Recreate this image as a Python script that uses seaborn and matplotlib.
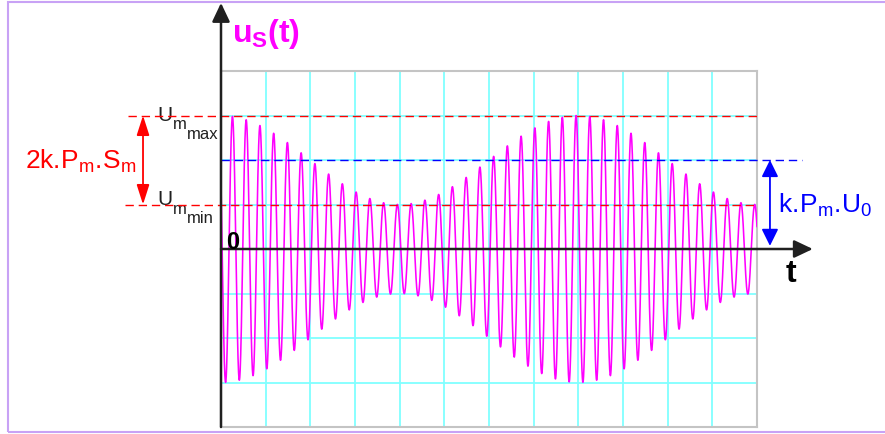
import numpy as np
import pandas as pd
import matplotlib
matplotlib.use("Agg")
import matplotlib.pyplot as plt
from matplotlib.patches import Rectangle
import seaborn as sns

# values, in grid units
u_max = 3.0            # U_m max
u_min = 1.0            # U_m min
u_mid = 2.0            # k.Pm.U0
env_period = 8.0       # envelope period (grid squares)
carrier_cycles = 26    # carrier periods in one envelope period
carrier_phase = np.pi / 3
t_end = 12.0

x_grid = list(range(0, 13))
y_grid = list(range(-4, 5))

t = np.linspace(0, t_end, 4000)
env = u_mid + (u_max - u_mid) * np.cos(2 * np.pi * t / env_period)
u = env * np.cos(2 * np.pi * carrier_cycles * t / env_period + carrier_phase)
signal = pd.DataFrame({"t": t, "u": u})

sns.set_theme(style="white")
plt.rcParams["font.family"] = ["Liberation Sans", "DejaVu Sans"]
plt.rcParams["mathtext.fontset"] = "custom"
plt.rcParams["mathtext.rm"] = "Liberation Sans"
plt.rcParams["mathtext.it"] = "Liberation Sans"
plt.rcParams["mathtext.bf"] = "Liberation Sans:bold"

fig = plt.figure(figsize=(8.85, 4.35), dpi=100)
fig.patches.append(Rectangle((7.5 / 885, 2.5 / 435), 900 / 885, 430 / 435,
                             transform=fig.transFigure, fill=False,
                             edgecolor="#c8a2f5", lw=1.5))

ax = fig.add_axes([221 / 885, 7 / 435, 536 / 885, 356 / 435])
sns.lineplot(data=signal, x="t", y="u", ax=ax, color="#ff00ff", lw=1.15,
             estimator=None, sort=False, zorder=3)
ax.set_xlim(0, t_end)
ax.set_ylim(-4, 4)
ax.set_xticks(x_grid)
ax.set_yticks(y_grid)
ax.grid(True, color="#80ffff", lw=1.3, zorder=0)
ax.tick_params(length=0, labelbottom=False, labelleft=False)
ax.set_xlabel("")
ax.set_ylabel("")
for s in ax.spines.values():
    s.set_color("#c4c4c4")
    s.set_linewidth(1.5)

# dashed levels
dash = (0, (6, 3.5))
ax.plot([-2.08, t_end], [u_max, u_max], color="red", lw=1, ls=dash, clip_on=False, zorder=4)
ax.plot([-2.15, t_end], [u_min, u_min], color="red", lw=1, ls=dash, clip_on=False, zorder=4)
ax.plot([0, 13.0], [u_mid, u_mid], color="#0000ff", lw=1, ls=dash, clip_on=False, zorder=4)

# axes with arrows
axis_arrow = dict(arrowstyle="-|>,head_length=0.95,head_width=0.45", color="#202020",
                  lw=1.8, shrinkA=0, shrinkB=0)
ax.annotate("", xy=(0, 5.53), xytext=(0, -4), arrowprops=axis_arrow,
            annotation_clip=False, zorder=5)
ax.annotate("", xy=(13.25, 0), xytext=(0, 0), arrowprops=axis_arrow,
            annotation_clip=False, zorder=5)

# double arrows
ax.annotate("", xy=(-1.746, u_max), xytext=(-1.746, u_min),
            arrowprops=dict(arrowstyle="<|-|>,head_length=1.0,head_width=0.32",
                            color="red", lw=1.3, shrinkA=0, shrinkB=0),
            annotation_clip=False)
ax.annotate("", xy=(12.29, u_mid), xytext=(12.29, 0.07),
            arrowprops=dict(arrowstyle="<|-|>,head_length=0.85,head_width=0.42",
                            color="#0000ff", lw=1.3, shrinkA=0, shrinkB=0),
            annotation_clip=False)

# labels
ax.text(0.25, 4.67, r"$\mathbf{u_S(t)}$", color="#ff00ff", fontsize=23,
        ha="left", va="baseline", clip_on=False)
ax.text(12.63, -0.72, "t", color="black", fontsize=23, fontweight="bold",
        ha="left", va="baseline", clip_on=False)
ax.text(0.11, 0.03, "0", color="black", fontsize=17, fontweight="bold",
        ha="left", va="baseline", clip_on=False, zorder=6)

# U_m max / U_m min built from three pieces
for level, base in [("max", 2.9), ("min", 1.0)]:
    ax.text(-1.43, base, "U", color="#202020", fontsize=15,
            ha="left", va="baseline", clip_on=False)
    ax.text(-1.08, base - 0.18, "m", color="#202020", fontsize=12,
            ha="left", va="baseline", clip_on=False)
    ax.text(-0.76, base - 0.40, level, color="#202020", fontsize=12,
            ha="left", va="baseline", clip_on=False)

ax.text(-4.39, 1.82, r"$\mathrm{2k.\!P_m.\!S_m}$", color="red", fontsize=19,
        ha="left", va="baseline", clip_on=False)
ax.text(12.47, 0.83, r"$\mathrm{k.\!P_m.\!U_0}$", color="#0000ff", fontsize=19,
        ha="left", va="baseline", clip_on=False)

fig.savefig("out.png", dpi=100)
